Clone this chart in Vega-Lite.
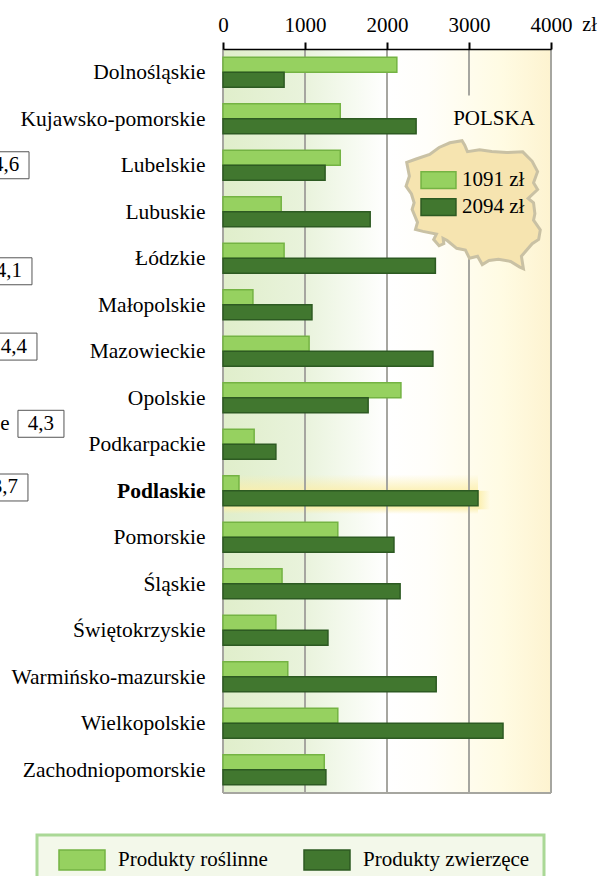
{
"$schema":"https://vega.github.io/schema/vega-lite/v6.json",
"width":328,"height":744,
"autosize":{"type":"none"},
"padding":{"left":223,"top":49,"right":49,"bottom":83},
"background":"white",
"config":{"view":{"stroke":null},"font":"Liberation Serif","text":{"font":"Liberation Serif"},"legend":{"strokeWidth":3}},
"layer":[
{"data":{"values":[{"a":0,"b":4000}]},
 "mark":{"type":"rect","fill":{"gradient":"linear","x1":0,"y1":0,"x2":1,"y2":0,"stops":[{"offset":0,"color":"#e0eecb"},{"offset":0.25,"color":"#e9f3dc"},{"offset":0.5,"color":"#ffffff"},{"offset":0.62,"color":"#fffefa"},{"offset":0.85,"color":"#fffbe3"},{"offset":1,"color":"#fdf3d0"}]}},
 "encoding":{"x":{"field":"a","type":"quantitative","scale":{"domain":[0,4000],"nice":false},
   "axis":{"orient":"top","values":[0,1000,2000,3000,4000],"format":"d","grid":false,"domainColor":"#000000","domainWidth":1.5,"tickColor":"#000000","tickWidth":2,"tickSize":7,"labelFont":"Liberation Serif","labelFontSize":21,"labelColor":"#000000","labelPadding":7,"labelFlush":false,"title":"zł","titleFont":"Liberation Serif","titleFontSize":20,"titleFontWeight":"normal","titleColor":"#000000","titleX":366,"titleY":-15,"zindex":1}},
   "x2":{"field":"b"}}},
{"data":{"values":[{"woj":"Podlaskie","a":0,"b":3110}]},
 "mark":{"type":"rect","fill":{"gradient":"linear","x1":0,"y1":0,"x2":0,"y2":1,"stops":[{"offset":0.15,"color":"rgba(251,238,170,0)"},{"offset":0.55,"color":"rgba(251,238,170,0.95)"},{"offset":0.85,"color":"rgba(251,238,170,0.95)"},{"offset":1,"color":"rgba(251,238,170,0)"}]}},
 "encoding":{"x":{"field":"a","type":"quantitative"},"x2":{"field":"b"},
   "y":{"field":"woj","type":"nominal","scale":{"domain":["Dolnośląskie","Kujawsko-pomorskie","Lubelskie","Lubuskie","Łódzkie","Małopolskie","Mazowieckie","Opolskie","Podkarpackie","Podlaskie","Pomorskie","Śląskie","Świętokrzyskie","Warmińsko-mazurskie","Wielkopolskie","Zachodniopomorskie"],"paddingInner":0,"paddingOuter":0},
   "axis":{"title":null,"domain":false,"ticks":false,"labelFont":"Liberation Serif","labelFontSize":21.5,"labelColor":"#000000","labelPadding":18,"labelOffset":1,"labelLimit":300,"labelFontWeight":{"condition":{"test":"datum.value==='Podlaskie'","value":"bold"},"value":"normal"},"zindex":1}}}},
{"data":{"values":[{"woj":"Podlaskie","a":3110,"b":3260}]},
 "mark":{"type":"rect","fill":{"gradient":"linear","x1":0,"y1":0,"x2":1,"y2":0,"stops":[{"offset":0,"color":"rgba(251,238,170,0.95)"},{"offset":1,"color":"rgba(251,238,170,0)"}]}},
 "encoding":{"x":{"field":"a","type":"quantitative"},"x2":{"field":"b"},"y":{"field":"woj","type":"nominal","bandPosition":0.5},"y2":{"field":"woj","bandPosition":0.9}}},
{"data":{"values":[{"v":0},{"v":1000},{"v":2000},{"v":4000}]},
 "mark":{"type":"rule","color":"#a6a6a0","strokeWidth":2},
 "encoding":{"x":{"field":"v","type":"quantitative"}}},
{"data":{"values":[{"a":"Dolnośląskie","b":"Kujawsko-pomorskie","v":3000}]},
 "mark":{"type":"rule","color":"#a6a6a0","strokeWidth":2},
 "encoding":{"x":{"field":"v","type":"quantitative"},"y":{"field":"a","type":"nominal","bandPosition":0},"y2":{"field":"b","bandPosition":0}}},
{"data":{"values":[{"a":"Łódzkie","b":"Zachodniopomorskie","v":3000}]},
 "mark":{"type":"rule","color":"#a6a6a0","strokeWidth":2},
 "encoding":{"x":{"field":"v","type":"quantitative"},"y":{"field":"a","type":"nominal","bandPosition":0.5},"y2":{"field":"b","bandPosition":1}}},
{"data":{"values":[{"woj":"Zachodniopomorskie","a":0,"b":4000}]},
 "mark":{"type":"rule","color":"#a6a6a0","strokeWidth":2},
 "encoding":{"x":{"field":"a","type":"quantitative"},"x2":{"field":"b"},"y":{"field":"woj","type":"nominal","bandPosition":1}}},
{"data":{"values":[
{"woj":"Dolnośląskie","rodzaj":"Produkty roślinne","zl":2120},{"woj":"Dolnośląskie","rodzaj":"Produkty zwierzęce","zl":745},
{"woj":"Kujawsko-pomorskie","rodzaj":"Produkty roślinne","zl":1430},{"woj":"Kujawsko-pomorskie","rodzaj":"Produkty zwierzęce","zl":2355},
{"woj":"Lubelskie","rodzaj":"Produkty roślinne","zl":1430},{"woj":"Lubelskie","rodzaj":"Produkty zwierzęce","zl":1245},
{"woj":"Lubuskie","rodzaj":"Produkty roślinne","zl":710},{"woj":"Lubuskie","rodzaj":"Produkty zwierzęce","zl":1795},
{"woj":"Łódzkie","rodzaj":"Produkty roślinne","zl":745},{"woj":"Łódzkie","rodzaj":"Produkty zwierzęce","zl":2590},
{"woj":"Małopolskie","rodzaj":"Produkty roślinne","zl":365},{"woj":"Małopolskie","rodzaj":"Produkty zwierzęce","zl":1085},
{"woj":"Mazowieckie","rodzaj":"Produkty roślinne","zl":1050},{"woj":"Mazowieckie","rodzaj":"Produkty zwierzęce","zl":2560},
{"woj":"Opolskie","rodzaj":"Produkty roślinne","zl":2170},{"woj":"Opolskie","rodzaj":"Produkty zwierzęce","zl":1770},
{"woj":"Podkarpackie","rodzaj":"Produkty roślinne","zl":380},{"woj":"Podkarpackie","rodzaj":"Produkty zwierzęce","zl":645},
{"woj":"Podlaskie","rodzaj":"Produkty roślinne","zl":195},{"woj":"Podlaskie","rodzaj":"Produkty zwierzęce","zl":3110},
{"woj":"Pomorskie","rodzaj":"Produkty roślinne","zl":1400},{"woj":"Pomorskie","rodzaj":"Produkty zwierzęce","zl":2085},
{"woj":"Śląskie","rodzaj":"Produkty roślinne","zl":720},{"woj":"Śląskie","rodzaj":"Produkty zwierzęce","zl":2160},
{"woj":"Świętokrzyskie","rodzaj":"Produkty roślinne","zl":645},{"woj":"Świętokrzyskie","rodzaj":"Produkty zwierzęce","zl":1280},
{"woj":"Warmińsko-mazurskie","rodzaj":"Produkty roślinne","zl":790},{"woj":"Warmińsko-mazurskie","rodzaj":"Produkty zwierzęce","zl":2600},
{"woj":"Wielkopolskie","rodzaj":"Produkty roślinne","zl":1400},{"woj":"Wielkopolskie","rodzaj":"Produkty zwierzęce","zl":3415},
{"woj":"Zachodniopomorskie","rodzaj":"Produkty roślinne","zl":1235},{"woj":"Zachodniopomorskie","rodzaj":"Produkty zwierzęce","zl":1255}
]},
 "mark":{"type":"bar","strokeWidth":1.5},
 "encoding":{"x":{"field":"zl","type":"quantitative","stack":null},
   "y":{"field":"woj","type":"nominal"},
   "yOffset":{"field":"rodzaj","type":"nominal","scale":{"domain":["Produkty roślinne","Produkty zwierzęce"],"paddingInner":0,"paddingOuter":0.55}},
   "fill":{"field":"rodzaj","type":"nominal","scale":{"domain":["Produkty roślinne","Produkty zwierzęce"],"range":["#96d160","#41772f"]},
     "legend":{"title":null,"orient":"none","legendX":-186,"legendY":786,"columns":2,"padding":14,"columnPadding":28,"symbolType":"M-2.3,-1H2.3V1H-2.3Z","symbolSize":400,"symbolOffset":20,"symbolStrokeWidth":1.5,"labelFont":"Liberation Serif","labelFontSize":21,"labelColor":"#000000","labelOffset":25,"labelLimit":300,"strokeColor":"#aad896","fillColor":"#f3f8ea"}},
   "stroke":{"field":"rodzaj","type":"nominal","scale":{"domain":["Produkty roślinne","Produkty zwierzęce"],"range":["#74b343","#2d5a22"]}}}},
{"data":{"values":[{"type":"Feature","properties":{"name":"Polska"},"geometry":{"type":"Polygon","coordinates":[[[14.2,53.9],[14.9,54.05],[15.9,54.25],[16.6,54.55],[17.4,54.75],[18.3,54.84],[18.5,54.65],[18.7,54.37],[19.6,54.45],[20.5,54.38],[21.6,54.33],[22.8,54.36],[23.5,53.95],[23.9,53.5],[23.6,53.0],[23.9,52.7],[23.2,52.3],[23.6,52.1],[23.7,51.6],[23.6,51.3],[24.1,50.85],[23.98,50.4],[23.5,50.2],[22.7,49.6],[22.85,49.0],[22.55,49.09],[21.9,49.35],[21.0,49.45],[20.3,49.4],[19.8,49.2],[19.45,49.6],[18.85,49.5],[18.55,49.9],[17.9,49.98],[17.2,50.35],[16.9,50.45],[16.95,50.2],[16.6,50.1],[16.2,50.4],[16.4,50.65],[15.4,50.78],[14.85,50.87],[15.0,51.2],[14.6,51.8],[14.75,52.1],[14.55,52.5],[14.15,52.85],[14.4,53.3],[14.2,53.9]]]}}]},
 "mark":{"type":"geoshape","fill":"#f6e4b0","stroke":"#c9c1a4","strokeWidth":3},
 "projection":{"type":"mercator","scale":773,"center":[19.15,52],"translate":[250.5,156]}},
{"data":{"values":[{"t":"POLSKA","x":3305,"y":"Kujawsko-pomorskie"}]},
 "mark":{"type":"text","fontSize":21,"font":"Liberation Serif","color":"#000000"},
 "encoding":{"x":{"field":"x","type":"quantitative"},"y":{"field":"y","type":"nominal"},"text":{"field":"t"}}},
{"data":{"values":[{"a":2415,"b":2841,"y":"Lubelskie","l":2915,"t":"1091 zł"}]},
 "layer":[
  {"mark":{"type":"rect","fill":"#96d160","stroke":"#74b343","strokeWidth":1.5},"encoding":{"x":{"field":"a","type":"quantitative"},"x2":{"field":"b"},"y":{"field":"y","type":"nominal","bandPosition":0.64},"y2":{"field":"y","bandPosition":1}}},
  {"mark":{"type":"text","align":"left","fontSize":21,"font":"Liberation Serif","color":"#000000"},"encoding":{"x":{"field":"l","type":"quantitative"},"y":{"field":"y","type":"nominal","bandPosition":0.82},"text":{"field":"t"}}}]},
{"data":{"values":[{"a":2415,"b":2841,"y":"Lubuskie","l":2915,"t":"2094 zł"}]},
 "layer":[
  {"mark":{"type":"rect","fill":"#41772f","stroke":"#2d5a22","strokeWidth":1.5},"encoding":{"x":{"field":"a","type":"quantitative"},"x2":{"field":"b"},"y":{"field":"y","type":"nominal","bandPosition":0.22},"y2":{"field":"y","bandPosition":0.58}}},
  {"mark":{"type":"text","align":"left","fontSize":21,"font":"Liberation Serif","color":"#000000"},"encoding":{"x":{"field":"l","type":"quantitative"},"y":{"field":"y","type":"nominal","bandPosition":0.4},"text":{"field":"t"}}}]},
{"data":{"values":[{"c":-2646,"y":"Lubelskie","t":"4,6"}]},"encoding":{"x":{"field":"c","type":"quantitative"}},
 "layer":[{"mark":{"type":"rect","width":46,"fill":"#ffffff","stroke":"#555555","strokeWidth":1},"encoding":{"y":{"field":"y","type":"nominal","bandPosition":0.21},"y2":{"field":"y","bandPosition":0.79}}},{"mark":{"type":"text","fontSize":21,"font":"Liberation Serif","color":"#000000"},"encoding":{"y":{"field":"y","type":"nominal","bandPosition":0.5},"text":{"field":"t"}}}]},
{"data":{"values":[{"c":-2610,"y":"Łódzkie","t":"4,1"}]},"encoding":{"x":{"field":"c","type":"quantitative"}},
 "layer":[{"mark":{"type":"rect","width":46,"fill":"#ffffff","stroke":"#555555","strokeWidth":1},"encoding":{"y":{"field":"y","type":"nominal","bandPosition":0.49},"y2":{"field":"y","bandPosition":1.07}}},{"mark":{"type":"text","fontSize":21,"font":"Liberation Serif","color":"#000000"},"encoding":{"y":{"field":"y","type":"nominal","bandPosition":0.78},"text":{"field":"t"}}}]},
{"data":{"values":[{"c":-2549,"y":"Mazowieckie","t":"4,4"}]},"encoding":{"x":{"field":"c","type":"quantitative"}},
 "layer":[{"mark":{"type":"rect","width":46,"fill":"#ffffff","stroke":"#555555","strokeWidth":1},"encoding":{"y":{"field":"y","type":"nominal","bandPosition":0.11},"y2":{"field":"y","bandPosition":0.69}}},{"mark":{"type":"text","fontSize":21,"font":"Liberation Serif","color":"#000000"},"encoding":{"y":{"field":"y","type":"nominal","bandPosition":0.4},"text":{"field":"t"}}}]},
{"data":{"values":[{"c":-2220,"y":"Podkarpackie","t":"4,3"}]},"encoding":{"x":{"field":"c","type":"quantitative"}},
 "layer":[{"mark":{"type":"rect","width":46,"fill":"#ffffff","stroke":"#555555","strokeWidth":1},"encoding":{"y":{"field":"y","type":"nominal","bandPosition":-0.23},"y2":{"field":"y","bandPosition":0.35}}},{"mark":{"type":"text","fontSize":21,"font":"Liberation Serif","color":"#000000"},"encoding":{"y":{"field":"y","type":"nominal","bandPosition":0.06},"text":{"field":"t"}}}]},
{"data":{"values":[{"c":-2659,"y":"Podlaskie","t":"3,7"}]},"encoding":{"x":{"field":"c","type":"quantitative"}},
 "layer":[{"mark":{"type":"rect","width":46,"fill":"#ffffff","stroke":"#555555","strokeWidth":1},"encoding":{"y":{"field":"y","type":"nominal","bandPosition":0.14},"y2":{"field":"y","bandPosition":0.72}}},{"mark":{"type":"text","fontSize":21,"font":"Liberation Serif","color":"#000000"},"encoding":{"y":{"field":"y","type":"nominal","bandPosition":0.43},"text":{"field":"t"}}}]},
{"data":{"values":[{"c":-2659,"y":"Podkarpackie","t":"e"}]},
 "mark":{"type":"text","fontSize":21,"font":"Liberation Serif","color":"#000000"},
 "encoding":{"x":{"field":"c","type":"quantitative"},"y":{"field":"y","type":"nominal","bandPosition":0.06},"text":{"field":"t"}}}
]
}
